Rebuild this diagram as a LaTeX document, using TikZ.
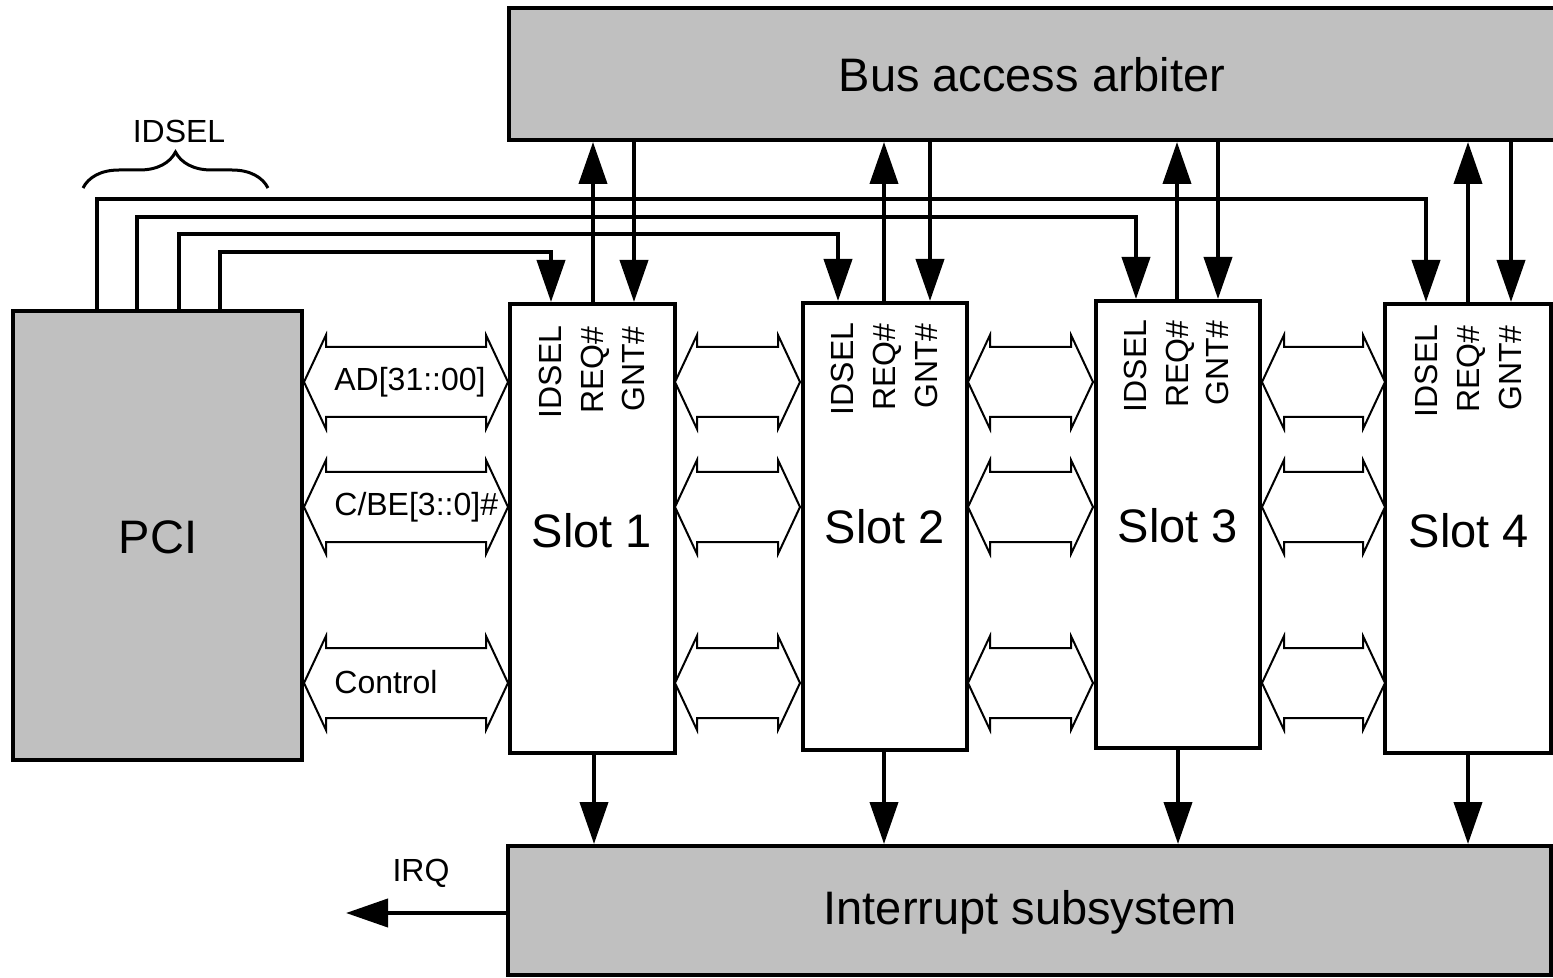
\documentclass[tikz,border=0pt]{standalone}
\usepackage{fontspec}
\setmainfont{Liberation Sans}
\usetikzlibrary{arrows.meta,fit,decorations.pathreplacing}
\definecolor{boxgray}{HTML}{C0C0C0}
\newcommand\fatarr[3]{%
  \draw[fatline] (#1,#3) -- ++(22,-47) -- ++(0,12) -- ({#2-22},{#3-35}) -- ++(0,-12)
    -- (#2,#3) -- ++(-22,47) -- ++(0,-12) -- ({#1+22},{#3+35}) -- ++(0,12) -- cycle;}
\begin{document}
\begin{tikzpicture}[x=0.5pt,y=-0.5pt,
  graybox/.style={draw,line width=2pt,fill=boxgray,inner sep=0pt},
  slotbox/.style={draw,line width=2pt,fill=white,inner sep=0pt},
  bigtxt/.style={font=\fontsize{23.5pt}{28pt}\selectfont,inner sep=0pt},
  smalltxt/.style={font=\fontsize{16pt}{19pt}\selectfont,inner sep=0pt},
  vlabel/.style={smalltxt,rotate=90},
  conn/.style={line width=2pt,-{Triangle[length=21pt,width=14pt]}},
  fatline/.style={line width=1pt,fill=white,line join=miter}]
\useasboundingbox (0,0) rectangle (1553,978);
\clip (0,0) rectangle (1553,978);

% boxes
\node[graybox,fit={(509,8) (1600,140)}] (arb) {};
\node[graybox,fit={(508,846) (1551,975)}] (int) {};
\node[graybox,fit={(13,311) (302,760)}] (pci) {};
\node[slotbox,fit={(510,304) (675,753)}] (s1) {};
\node[slotbox,fit={(803,303) (967,750)}] (s2) {};
\node[slotbox,fit={(1096,301) (1260,748)}] (s3) {};
\node[slotbox,fit={(1385,304) (1551,753)}] (s4) {};

% fat bidirectional bus arrows
\foreach \xa/\xb in {304/508, 675/800, 968/1093, 1262/1385}{
  \fatarr{\xa}{\xb}{382}
  \fatarr{\xa}{\xb}{507}
  \fatarr{\xa}{\xb}{683}
}

% texts
\node[bigtxt] (arbt) at (1032,75) {Bus access arbiter};
\node[bigtxt] (intt) at (1030,912) {Interrupt subsystem};
\node[bigtxt] (pcit) at (158,537) {PCI};
\node[bigtxt] (s1t) at (592,531) {Slot 1};
\node[bigtxt] (s2t) at (885,527) {Slot 2};
\node[bigtxt] (s3t) at (1178,526) {Slot 3};
\node[bigtxt] (s4t) at (1469,531) {Slot 4};

\node[vlabel] (s1a) at (550,372) {IDSEL};
\node[vlabel] (s1b) at (595,370) {REQ\#};
\node[vlabel] (s1c) at (633,369) {GNT\#};
\node[vlabel] (s2a) at (842,369) {IDSEL};
\node[vlabel] (s2b) at (887,367) {REQ\#};
\node[vlabel] (s2c) at (926,366) {GNT\#};
\node[vlabel] (s3a) at (1135,366) {IDSEL};
\node[vlabel] (s3b) at (1180,364) {REQ\#};
\node[vlabel] (s3c) at (1217,363) {GNT\#};
\node[vlabel] (s4a) at (1426,371) {IDSEL};
\node[vlabel] (s4b) at (1471,369) {REQ\#};
\node[vlabel] (s4c) at (1510,368) {GNT\#};

\node[smalltxt,anchor=west] (adt) at (334,382) {AD[31::00]};
\node[smalltxt,anchor=west] (cbt) at (334,507) {C/BE[3::0]\#};
\node[smalltxt,anchor=west] (ctt) at (334,682) {Control};
\node[smalltxt] (idt) at (179,131) {IDSEL};
\node[smalltxt] (irqt) at (421,873) {IRQ};

% REQ / GNT
\draw[conn] (593,0 |- s1.north) -- (593,0 |- arb.south);
\draw[conn] (634,0 |- arb.south) -- (634,0 |- s1.north);
\draw[conn] (884,0 |- s2.north) -- (884,0 |- arb.south);
\draw[conn] (930,0 |- arb.south) -- (930,0 |- s2.north);
\draw[conn] (1177,0 |- s3.north) -- (1177,0 |- arb.south);
\draw[conn] (1218,0 |- arb.south) -- (1218,0 |- s3.north);
\draw[conn] (1468,0 |- s4.north) -- (1468,0 |- arb.south);
\draw[conn] (1511,0 |- arb.south) -- (1511,0 |- s4.north);

% IDSEL lines
\draw[conn] (220,0 |- pci.north) -- (220,252) -- (551,252) -- (551,0 |- s1.north);
\draw[conn] (179,0 |- pci.north) -- (179,234) -- (838,234) -- (838,0 |- s2.north);
\draw[conn] (137,0 |- pci.north) -- (137,217) -- (1136,217) -- (1136,0 |- s3.north);
\draw[conn] (97,0 |- pci.north) -- (97,199) -- (1426,199) -- (1426,0 |- s4.north);

% interrupt lines
\draw[conn] (594,0 |- s1.south) -- (594,0 |- int.north);
\draw[conn] (884,0 |- s2.south) -- (884,0 |- int.north);
\draw[conn] (1178,0 |- s3.south) -- (1178,0 |- int.north);
\draw[conn] (1468,0 |- s4.south) -- (1468,0 |- int.north);

% IRQ out
\coordinate (irqend) at (346,913);
\draw[conn] (int.west |- irqend) -- (irqend);

% brace
\draw[line width=1.5pt,decorate,decoration={brace,amplitude=18pt}] (83,188) -- (268,188);
\end{tikzpicture}
\end{document}
